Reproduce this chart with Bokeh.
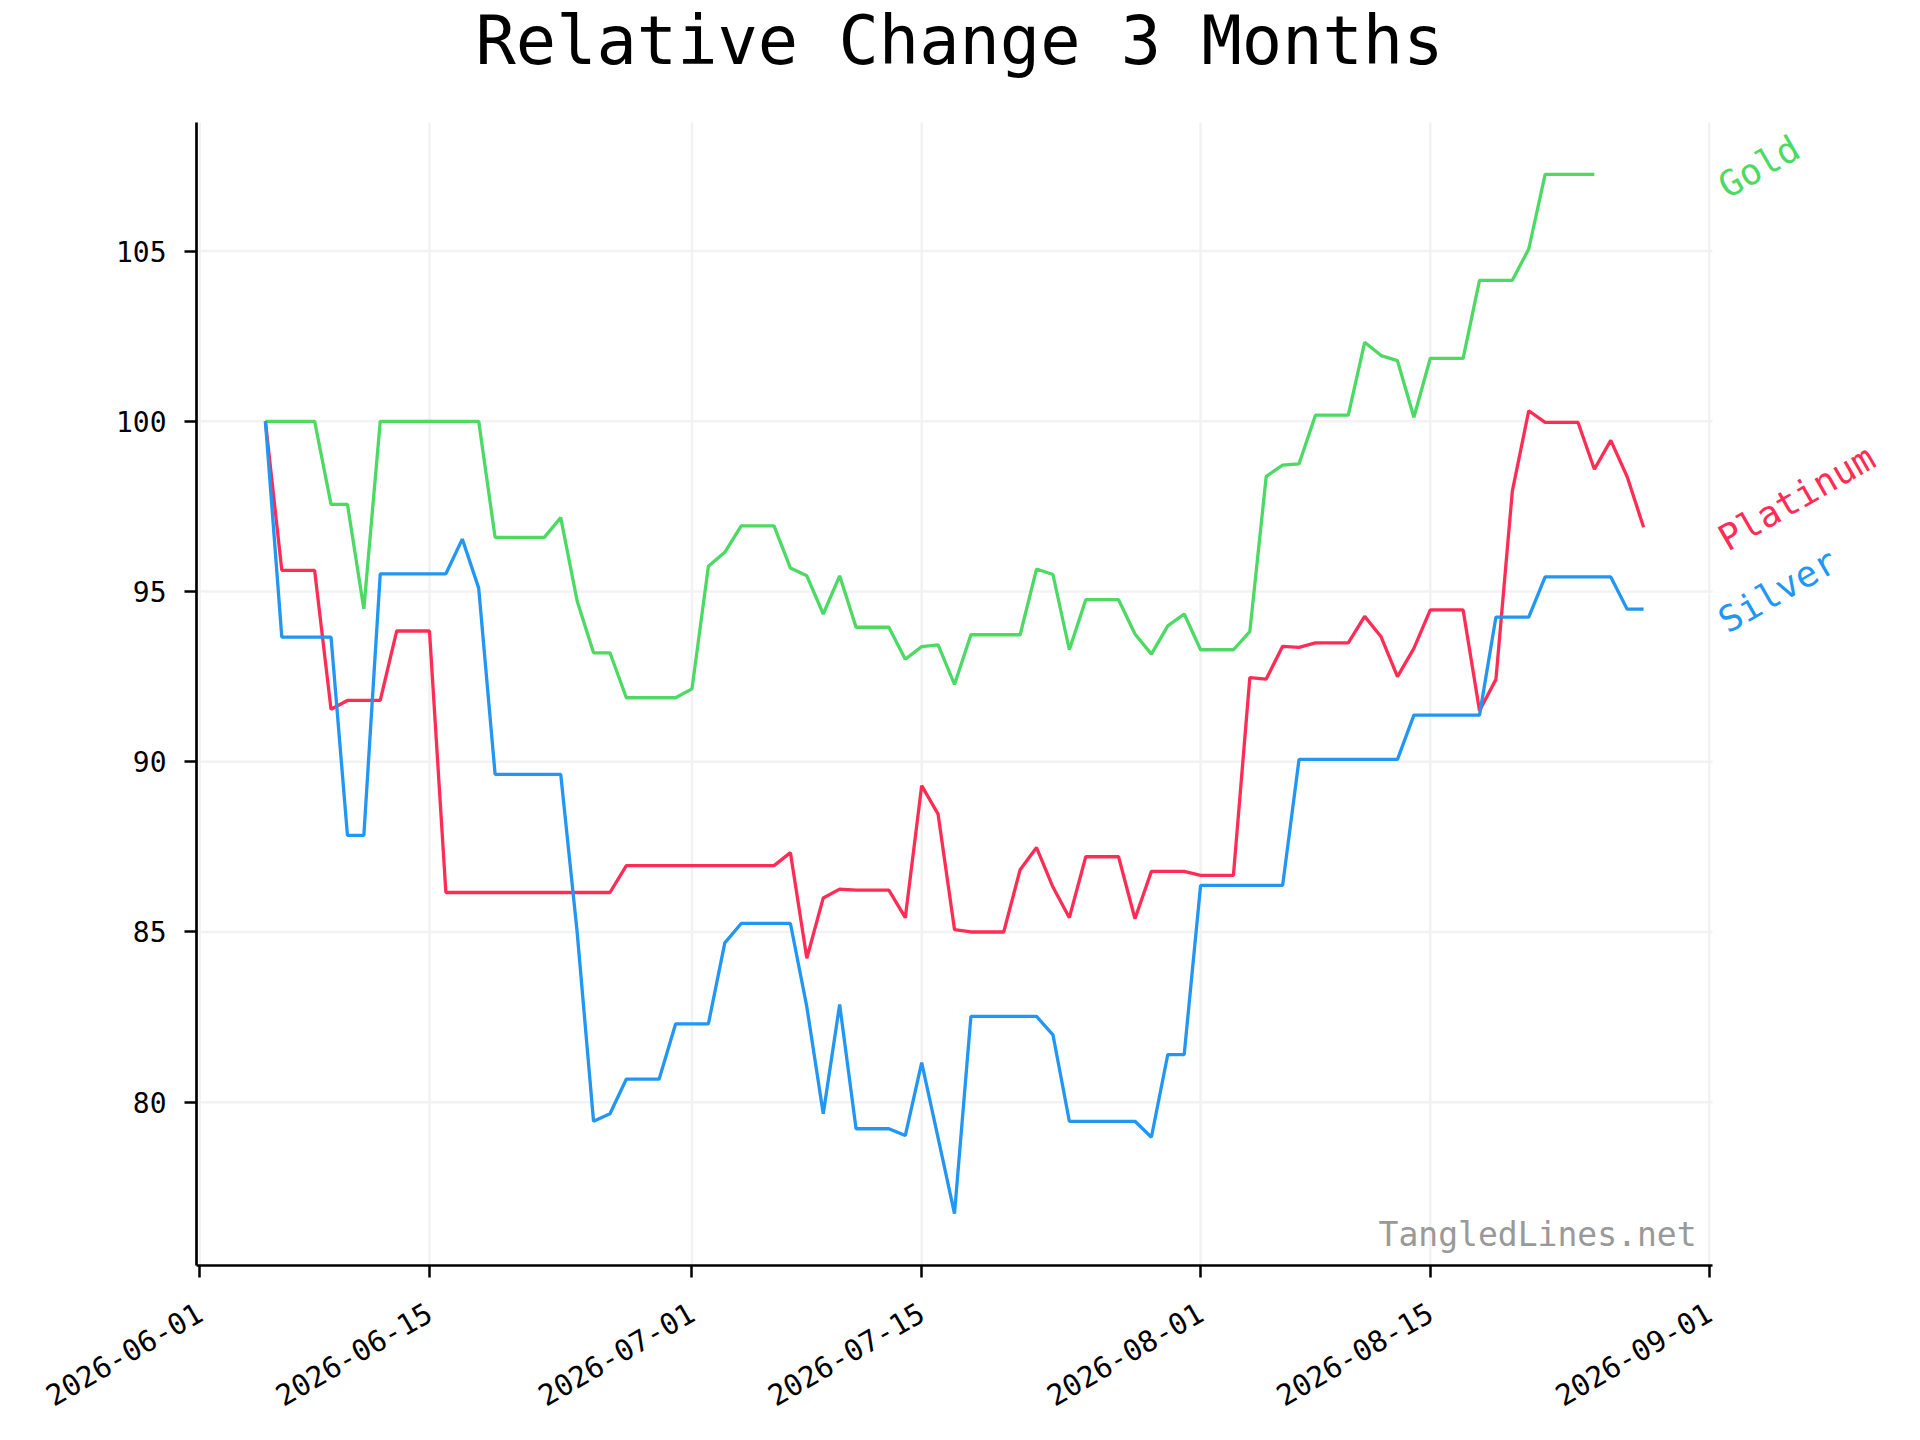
import math
import pandas as pd
from bokeh.plotting import figure
from bokeh.models import Range1d, FixedTicker, DatetimeTickFormatter, Label
from bokeh.embed import file_html
from bokeh.resources import INLINE

# ---------------- data ----------------
start_date = "2026-06-05"

gold = [100, 100, 100, 100, 97.56, 97.56, 94.49, 100, 100, 100, 100, 100, 100, 100,
        96.59, 96.59, 96.59, 96.59, 97.17, 94.72, 93.2, 93.2, 91.88, 91.88, 91.88, 91.88,
        92.14, 95.74, 96.15, 96.93, 96.93, 96.93, 95.69, 95.46, 94.34, 95.46, 93.95, 93.95,
        93.95, 93.01, 93.38, 93.43, 92.27, 93.73, 93.73, 93.73, 93.73, 95.66, 95.5, 93.29,
        94.76, 94.76, 94.76, 93.75, 93.16, 93.99, 94.34, 93.29, 93.29, 93.29, 93.82, 98.38,
        98.71, 98.75, 100.18, 100.18, 100.18, 102.32, 101.93, 101.78, 100.12, 101.85, 101.85,
        101.85, 104.14, 104.14, 104.14, 105.06, 107.25, 107.25, 107.25, 107.25]

silver = [100, 93.66, 93.66, 93.66, 93.66, 87.84, 87.84, 95.52, 95.52, 95.52, 95.52, 95.52,
          96.54, 95.1, 89.63, 89.63, 89.63, 89.63, 89.63, 85.0, 79.44, 79.66, 80.68, 80.68,
          80.68, 82.3, 82.3, 82.3, 84.68, 85.25, 85.25, 85.25, 85.25, 82.8, 79.66, 82.87,
          79.22, 79.22, 79.22, 79.02, 81.16, 78.95, 76.73, 82.52, 82.52, 82.52, 82.52, 82.52,
          81.98, 79.44, 79.44, 79.44, 79.44, 79.44, 78.97, 81.4, 81.4, 86.37, 86.37, 86.37,
          86.37, 86.37, 86.37, 90.07, 90.07, 90.07, 90.07, 90.07, 90.07, 90.07, 91.37, 91.37,
          91.37, 91.37, 91.37, 94.25, 94.25, 94.25, 95.43, 95.43, 95.43, 95.43, 95.43, 94.48,
          94.48]

platinum = [100, 95.62, 95.62, 95.62, 91.54, 91.8, 91.8, 91.8, 93.84, 93.84, 93.84, 86.16,
            86.16, 86.16, 86.16, 86.16, 86.16, 86.16, 86.16, 86.16, 86.16, 86.16, 86.95,
            86.95, 86.95, 86.95, 86.95, 86.95, 86.95, 86.95, 86.95, 86.95, 87.33, 84.23, 86.0,
            86.26, 86.23, 86.23, 86.23, 85.42, 89.3, 88.46, 85.07, 85.0, 85.0, 85.0, 86.83,
            87.48, 86.32, 85.42, 87.21, 87.21, 87.21, 85.39, 86.78, 86.78, 86.78, 86.66, 86.66,
            86.66, 92.47, 92.43, 93.39, 93.36, 93.49, 93.49, 93.49, 94.27, 93.67, 92.5, 93.33,
            94.46, 94.46, 94.46, 91.5, 92.42, 97.95, 100.31, 99.97, 99.97, 99.97, 98.59, 99.44,
            98.37, 96.89]

series_names = ["Gold", "Platinum", "Silver"]
series_values = [gold, platinum, silver]
series_colors = ["#4cd964", "#ff2d55", "#2196f3"]

x_tick_labels = ["2026-06-01", "2026-06-15", "2026-07-01", "2026-07-15",
                 "2026-08-01", "2026-08-15", "2026-09-01"]
y_ticks = [80, 85, 90, 95, 100, 105]

title_text = "Relative Change 3 Months"
watermark = "TangledLines.net"

# ---------------- layout ----------------
FONT = "DejaVu Sans Mono"
W, H = 1904, 1424
PL, PT, PR, PB = 196, 122, 1712, 1265      # plotting area (axes box) in canvas px
RW, RH = PR - PL, PB - PT                    # axes box size
FW, FH = W - PL, PB                          # frame extends to the right and top edges

def ms(t):
    return pd.Timestamp(t).value / 1e6

n_days = max(len(v) for v in series_values)
dates = pd.date_range(start_date, periods=n_days, freq="D")

d0, d1 = ms(dates[0]), ms(dates[-1])
x_start = d0 - 0.05 * (d1 - d0)
x_end = d1 + 0.05 * (d1 - d0)
all_vals = [v for s in series_values for v in s]
lo, hi = min(all_vals), max(all_vals)
pad = (hi - lo) * 0.05
y_lo, y_hi = lo - pad, hi + pad

# extend the ranges so that the frame also covers the title / label margins
x_ext = x_start + (x_end - x_start) * FW / RW
y_ext = y_lo + (y_hi - y_lo) * FH / RH

p = figure(width=W, height=H, x_axis_type="datetime",
           output_backend="svg", toolbar_location=None,
           min_border_left=PL, min_border_right=0,
           min_border_top=0, min_border_bottom=H - PB,
           x_range=Range1d(x_start, x_ext), y_range=Range1d(y_lo, y_ext))

p.outline_line_color = None
p.background_fill_color = "white"
p.border_fill_color = "white"
p.grid.visible = False

tick_ms = [ms(t) for t in x_tick_labels]

# grid lines, limited to the axes box
p.segment(x0=tick_ms, y0=[y_lo] * len(tick_ms), x1=tick_ms, y1=[y_hi] * len(tick_ms),
          line_color="#f2f2f2", line_width=2.5)
p.segment(x0=[x_start] * len(y_ticks), y0=y_ticks, x1=[x_end] * len(y_ticks), y1=y_ticks,
          line_color="#f2f2f2", line_width=2.5)

for name, vals, col in zip(series_names, series_values, series_colors):
    p.line(dates[:len(vals)], vals, line_color=col, line_width=3.3)

# axes
p.xaxis.ticker = FixedTicker(ticks=tick_ms)
fmt = "%Y-%m-%d"
p.xaxis.formatter = DatetimeTickFormatter(days=fmt, months=fmt, years=fmt, hours=fmt,
                                          hourmin=fmt, minutes=fmt, seconds=fmt,
                                          minsec=fmt, milliseconds=fmt, microseconds=fmt)
p.xaxis.major_label_orientation = math.pi / 6
p.yaxis.ticker = FixedTicker(ticks=y_ticks)
p.xaxis.bounds = (x_start, x_end)
p.yaxis.bounds = (y_lo, y_hi)

for ax in (p.xaxis, p.yaxis):
    ax.axis_line_width = 2.7
    ax.axis_line_color = "black"
    ax.major_tick_line_width = 2.5
    ax.major_tick_line_color = "black"
    ax.major_tick_out = 12
    ax.major_tick_in = 0
    ax.minor_tick_line_color = None
    ax.major_label_text_font = FONT
    ax.major_label_text_color = "black"
p.yaxis.major_label_text_font_size = "28px"
p.xaxis.major_label_text_font_size = "29px"
p.yaxis.major_label_standoff = 18
p.xaxis.major_label_standoff = 33

# title
p.add_layout(Label(x=RW / 2 + 5, y=PB - 40, x_units="screen", y_units="screen",
                   text=title_text, text_font=FONT, text_font_size="67px",
                   text_color="black", text_align="center", text_baseline="alphabetic"))

# series labels, just right of the axes box, at each series' last value
for name, vals, col in zip(series_names, series_values, series_colors):
    p.add_layout(Label(x=RW + 9, y=vals[-1], x_units="screen", y_units="data",
                       y_offset=-14, text=name, angle=math.pi / 6,
                       text_font=FONT, text_font_size="36px", text_color=col,
                       text_align="left", text_baseline="alphabetic"))

# watermark
p.add_layout(Label(x=RW - 16, y=31, x_units="screen", y_units="screen",
                   text=watermark, text_font=FONT, text_font_size="33px",
                   text_color="#999999", text_align="right", text_baseline="alphabetic"))

open("out.html", "w").write(file_html(p, INLINE))
